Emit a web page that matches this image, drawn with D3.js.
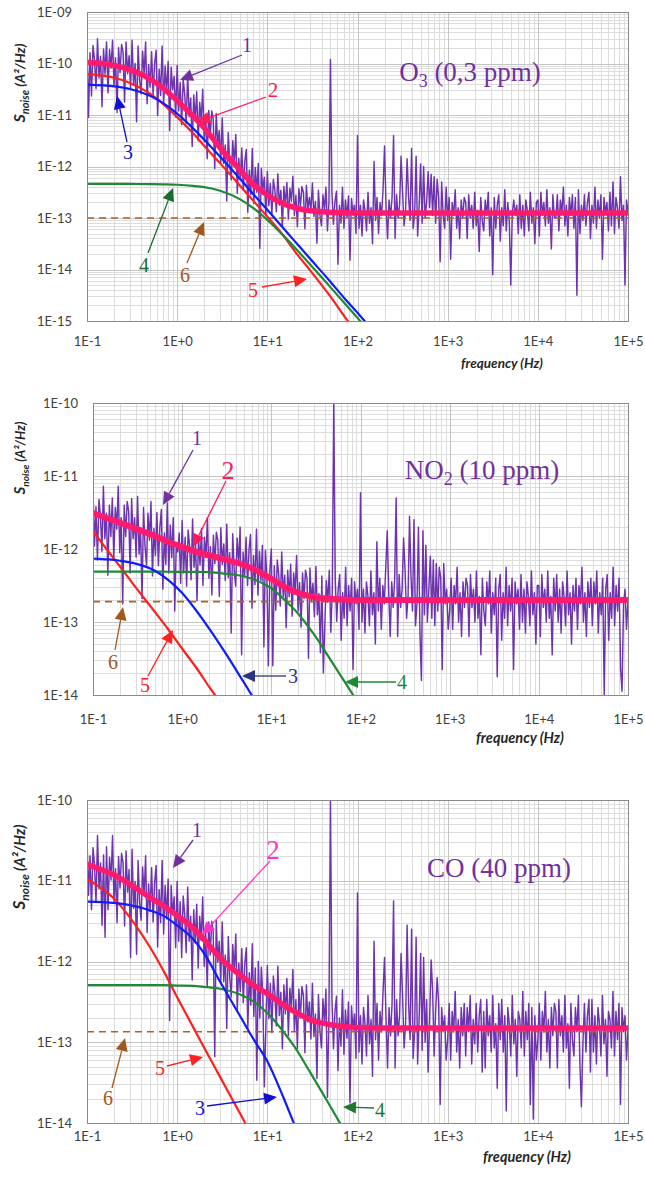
<!DOCTYPE html>
<html><head><meta charset="utf-8">
<script src="https://cdn.jsdelivr.net/npm/d3@7/dist/d3.min.js"></script>
<style>body{margin:0;background:#fff}svg{display:block}</style>
</head><body>
<svg id="chart" width="645" height="1178"></svg>
<script>
// ---------------- DATA ----------------
// frequency grid of the measured spectra: decade starts x 60 steps per decade
const decadeStarts = [0.1, 1, 10, 100, 1000, 10000];
const decadeSteps = [1.000,1.039,1.080,1.122,1.166,1.212,1.259,1.308,1.359,1.413,
  1.468,1.526,1.585,1.647,1.711,1.778,1.848,1.920,1.995,2.073,
  2.154,2.239,2.326,2.417,2.512,2.610,2.712,2.818,2.929,3.043,
  3.162,3.286,3.415,3.548,3.687,3.831,3.981,4.137,4.299,4.467,
  4.642,4.823,5.012,5.208,5.412,5.623,5.843,6.072,6.310,6.556,
  6.813,7.079,7.356,7.644,7.943,8.254,8.577,8.913,9.261,9.624];
const lastFreq = 100000;

const xTickLabels = ["1E-1","1E+0","1E+1","1E+2","1E+3","1E+4","1E+5"];
const yTickLabelsO3 = ["1E-09","1E-10","1E-11","1E-12","1E-13","1E-14","1E-15"];
const yTickLabels = ["1E-10","1E-11","1E-12","1E-13","1E-14"];

// measured spectra (curve 1), log10 of S (A^2/Hz)
const o3Noise = [
-9.6,-11.05,-9.79,-10.63,-9.65,-9.93,-10.49,-9.52,-10.28,-9.86,-10.84,-9.72,
-10.21,-9.58,-10.57,-9.73,-10.09,-9.55,-10.44,-9.89,-10.95,-9.69,-10.18,-9.63,
-9.77,-10.75,-9.58,-10.2,-9.85,-10.48,-9.55,-10.42,-10.0,-11.13,-9.66,-10.31,
-10.59,-9.76,-10.2,-9.58,-10.78,-10.02,-10.46,-9.77,-10.62,-10.0,-9.74,-11.01,
-10.11,-10.62,-9.66,-10.8,-10.05,-10.56,-9.96,-11.3,-10.07,-10.51,-10.25,-11.04,
-10.04,-10.92,-10.37,-11.19,-10.3,-10.6,-11.16,-10.21,-11.03,-10.67,-11.61,-10.61,
-11.1,-10.55,-11.5,-10.75,-11.12,-10.5,-11.52,-11.03,-11.85,-10.91,-11.41,-10.92,
-11.09,-12.04,-10.97,-11.59,-11.3,-11.93,-11.06,-11.94,-11.58,-12.67,-11.34,-11.96,
-12.26,-11.5,-11.94,-11.38,-12.52,-11.84,-12.26,-11.64,-12.46,-11.9,-11.67,-12.89,
-12.07,-12.55,-11.65,-12.72,-12.02,-12.5,-11.94,-13.59,-12.04,-12.46,-12.21,-12.95,
-12.1,-12.76,-12.33,-12.94,-12.25,-12.46,-12.88,-12.14,-12.75,-12.46,-13.18,-12.39,
-12.75,-12.31,-13.02,-12.42,-12.68,-12.19,-12.95,-12.56,-13.17,-12.43,-12.79,-12.39,
-12.5,-13.21,-12.37,-12.83,-12.6,-12.87,-12.32,-12.97,-12.68,-13.49,-12.46,-12.94,
-13.15,-12.55,-12.85,-12.4,-13.25,-12.7,-9.92,-12.52,-13.12,-12.68,-12.48,-13.9,
-12.75,-13.1,-12.4,-13.2,-12.65,-13.0,-12.57,-13.82,-12.62,-12.93,-12.75,-13.3,
-11.4,-13.2,-12.75,-13.35,-12.65,-12.85,-13.25,-12.5,-13.1,-12.8,-13.5,-11.9,
-13.05,-12.6,-13.3,-12.7,-12.95,-12.45,-11.6,-12.8,-13.4,-12.65,-13.0,-12.6,
-11.4,-13.4,-12.55,-13.0,-12.75,-11.8,-12.5,-13.15,-12.85,-11.85,-12.6,-13.05,
-11.65,-13.2,-12.95,-11.8,-13.35,-12.8,-11.95,-13.1,-12.0,-13.0,-12.7,-12.1,
-12.8,-12.15,-12.95,-12.2,-13.1,-12.25,-12.6,-13.85,-12.3,-12.95,-13.2,-12.4,
-13.05,-12.6,-13.8,-12.7,-12.95,-12.45,-13.2,-12.8,-13.4,-12.65,-13.0,-12.6,
-12.7,-13.4,-12.55,-13.0,-12.75,-13.2,-12.5,-13.15,-12.85,-13.65,-12.6,-13.05,
-13.25,-12.65,-12.95,-12.5,-13.35,-12.8,-14.1,-12.6,-13.2,-12.75,-12.55,-13.45,
-12.8,-13.15,-12.45,-13.25,-12.7,-13.05,-14.3,-12.9,-12.65,-12.95,-12.75,-13.3,
-12.55,-13.2,-12.75,-13.35,-12.65,-12.85,-13.25,-12.5,-13.1,-12.8,-13.5,-12.7,
-12.65,-13.35,-12.5,-12.95,-12.7,-13.15,-12.45,-13.1,-12.8,-13.6,-12.55,-13.0,
-13.0,-12.55,-13.25,-12.65,-12.9,-12.4,-13.15,-12.75,-13.35,-12.6,-12.95,-12.55,
-13.2,-12.6,-14.5,-12.45,-13.3,-12.75,-13.05,-12.55,-13.15,-12.7,-12.5,-13.4,
-12.75,-13.1,-12.4,-13.2,-12.65,-13.0,-12.55,-13.8,-12.6,-12.9,-12.7,-13.25,
-12.5,-13.15,-12.3,-13.3,-12.6,-12.8,-13.2,-12.2,-13.05,-12.75,-14.3,-12.65,
-12.9];
const no2Noise = [
-11.18,-11.96,-11.42,-12.15,-11.32,-11.55,-12.03,-11.14,-11.86,-11.51,-12.36,-11.4,
-11.83,-11.3,-12.14,-11.43,-11.73,-11.14,-12.05,-11.57,-12.75,-11.4,-11.83,-11.35,
-11.48,-12.33,-11.31,-11.86,-11.57,-12.11,-11.28,-12.07,-11.71,-12.68,-11.43,-11.97,
-12.22,-11.51,-11.88,-11.35,-12.37,-11.72,-12.09,-11.5,-12.23,-11.7,-11.46,-12.55,
-11.78,-12.21,-11.37,-12.33,-11.67,-12.12,-11.57,-12.85,-11.97,-12.04,-11.78,-12.47,
-11.61,-12.33,-11.84,-12.51,-11.74,-11.96,-12.42,-11.59,-12.25,-11.93,-12.71,-11.83,
-12.22,-11.72,-12.5,-11.84,-12.12,-11.57,-12.4,-11.97,-12.63,-11.81,-12.2,-11.77,
-11.88,-12.65,-11.71,-12.21,-11.93,-12.43,-11.66,-12.39,-12.05,-13.15,-11.79,-12.29,
-12.51,-11.85,-12.19,-11.7,-13.45,-12.04,-12.38,-11.84,-12.5,-12.0,-11.8,-12.81,
-12.09,-12.49,-11.73,-12.63,-12.03,-12.43,-11.95,-13.34,-12.02,-12.37,-13.6,-12.3,
-12.0,-13.6,-12.23,-12.84,-12.15,-12.36,-12.78,-12.04,-12.65,-12.36,-13.08,-12.29,
-12.65,-12.21,-12.92,-12.33,-12.58,-12.09,-12.85,-12.46,-13.07,-12.33,-12.68,-12.29,
-12.4,-13.5,-12.26,-12.72,-12.47,-12.93,-12.24,-12.9,-12.61,-13.42,-12.37,-13.7,
-13.03,-12.43,-12.73,-12.29,-13.14,-12.59,-10.0,-12.4,-12.99,-12.55,-12.35,-13.25,
-12.6,-12.95,-12.25,-13.05,-12.5,-12.85,-12.4,-13.65,-12.45,-12.75,-12.55,-13.1,
-11.23,-13.0,-12.55,-13.15,-12.45,-12.65,-13.05,-12.3,-12.9,-12.6,-13.3,-11.9,
-12.85,-12.4,-13.1,-12.5,-12.75,-12.25,-11.75,-12.6,-13.2,-12.45,-12.8,-12.4,
-11.3,-13.2,-12.35,-12.8,-12.55,-11.85,-12.3,-12.95,-12.65,-11.55,-12.4,-12.85,
-11.6,-13.05,-12.75,-11.7,-13.15,-13.8,-11.75,-12.9,-11.95,-13.0,-12.55,-12.1,
-12.95,-12.15,-13.05,-12.2,-12.85,-12.25,-12.4,-13.65,-12.2,-12.75,-12.55,-13.1,
-12.85,-12.4,-13.1,-12.5,-12.75,-12.25,-13.0,-12.6,-13.2,-12.45,-12.8,-12.4,
-12.5,-13.2,-12.35,-12.8,-12.55,-13.0,-12.3,-12.95,-12.65,-13.45,-12.4,-12.85,
-13.05,-12.45,-12.75,-12.3,-13.15,-12.6,-12.9,-12.4,-13.75,-12.55,-12.35,-13.25,
-12.6,-12.95,-12.25,-13.05,-12.5,-12.85,-12.4,-13.65,-12.45,-12.75,-12.55,-13.1,
-12.35,-13.0,-12.55,-13.15,-12.45,-12.65,-13.05,-12.3,-12.9,-12.6,-13.3,-12.5,
-12.5,-13.2,-12.35,-12.8,-12.55,-13.0,-12.3,-12.95,-12.65,-13.45,-12.4,-12.85,
-12.35,-13.0,-12.55,-13.15,-12.45,-12.65,-13.05,-12.3,-12.9,-12.6,-13.3,-12.5,
-12.85,-12.4,-13.1,-12.5,-12.75,-12.25,-13.0,-12.6,-13.2,-12.45,-12.8,-12.4,
-13.05,-12.45,-12.75,-12.3,-13.15,-12.6,-12.9,-12.4,-14.0,-12.55,-12.35,-13.25,
-12.6,-12.95,-12.25,-13.05,-12.5,-12.85,-12.4,-13.65,-13.95,-12.75,-12.55,-13.1,
-12.7];
const coNoise = [
-10.46,-11.18,-10.69,-11.36,-10.59,-10.81,-11.27,-10.44,-11.1,-10.78,-11.55,-10.68,
-11.7,-10.58,-11.36,-10.71,-10.99,-10.44,-11.28,-10.85,-11.52,-10.7,-11.09,-10.66,
-10.78,-11.56,-10.63,-11.14,-10.86,-11.95,-10.61,-11.34,-11.01,-11.91,-10.75,-11.26,
-11.49,-10.83,-11.18,-10.69,-11.64,-11.04,-11.38,-10.84,-11.51,-11.02,-10.81,-11.82,
-11.11,-11.52,-10.75,-11.66,-11.06,-11.47,-10.98,-12.73,-11.06,-11.42,-11.2,-11.83,
-11.01,-11.75,-11.26,-11.95,-11.19,-11.42,-11.89,-11.08,-11.75,-11.44,-12.23,-11.36,
-11.77,-11.29,-12.08,-11.44,-11.74,-11.2,-12.06,-11.64,-12.32,-11.51,-11.92,-11.5,
-11.63,-13.18,-11.49,-12.01,-11.75,-12.26,-11.51,-12.25,-11.92,-12.83,-11.69,-12.2,
-12.44,-11.79,-12.14,-11.66,-12.62,-12.02,-12.37,-11.84,-12.51,-12.03,-11.83,-12.84,
-12.14,-12.54,-11.78,-12.68,-12.08,-13.47,-12.0,-12.7,-12.07,-12.42,-13.55,-12.83,
-12.05,-12.71,-12.27,-12.88,-12.18,-12.39,-12.8,-12.06,-12.67,-12.38,-13.08,-12.29,
-12.65,-12.21,-12.92,-12.33,-12.59,-12.1,-12.86,-12.47,-13.08,-12.34,-12.7,-12.31,
-12.42,-13.13,-12.29,-12.75,-12.5,-12.96,-12.27,-12.93,-12.65,-13.45,-12.41,-12.86,
-13.07,-12.46,-12.76,-12.34,-13.68,-12.65,-10.0,-12.47,-13.08,-12.62,-12.43,-13.35,
-12.7,-13.05,-12.35,-13.15,-12.6,-12.95,-12.5,-13.75,-12.55,-12.85,-12.65,-13.2,
-11.15,-13.12,-12.67,-13.27,-12.57,-12.77,-13.17,-12.42,-13.02,-12.72,-13.42,-11.75,
-12.97,-12.52,-13.22,-12.62,-12.87,-12.37,-11.95,-12.72,-13.32,-12.57,-12.92,-12.52,
-11.25,-13.32,-12.47,-12.92,-12.67,-11.9,-12.42,-13.07,-12.77,-11.55,-12.52,-12.97,
-11.6,-13.2,-12.87,-11.7,-13.27,-12.72,-11.9,-13.1,-11.95,-13.0,-12.47,-13.37,
-12.72,-11.98,-12.37,-13.17,-12.62,-12.2,-12.52,-13.77,-12.57,-12.87,-12.67,-13.22,
-12.97,-12.52,-13.22,-12.62,-12.87,-12.37,-13.12,-12.72,-13.32,-12.57,-12.92,-12.52,
-13.17,-12.57,-12.87,-12.42,-13.27,-12.72,-13.02,-12.52,-13.12,-12.67,-12.47,-13.37,
-12.62,-13.32,-12.47,-12.92,-12.67,-13.12,-12.42,-13.07,-12.77,-13.57,-12.52,-12.97,
-12.47,-13.12,-12.67,-13.85,-12.57,-12.77,-13.17,-12.42,-13.02,-12.72,-13.42,-12.62,
-12.72,-13.07,-12.37,-13.17,-12.62,-12.97,-12.52,-13.77,-12.57,-13.95,-12.67,-13.22,
-12.97,-12.52,-13.22,-12.62,-12.87,-12.37,-13.12,-12.72,-13.32,-12.57,-12.92,-12.52,
-12.62,-13.32,-12.47,-12.92,-12.67,-13.12,-12.42,-13.07,-12.77,-13.57,-12.52,-12.97,
-13.17,-12.57,-12.87,-12.42,-13.27,-13.8,-13.02,-12.52,-13.12,-12.67,-12.47,-13.37,
-12.47,-13.12,-12.67,-13.27,-12.57,-12.77,-13.17,-12.42,-13.02,-12.72,-13.42,-12.62,
-12.72,-13.07,-12.37,-13.17,-12.62,-12.97,-12.52,-13.77,-12.57,-12.87,-12.67,-13.22,
-12.85];

// fitted model curves, sampled at these frequencies (Hz)
const curveFreqs = [0.1,0.15,0.2,0.3,0.5,0.7,1,1.5,2,3,5,7,10,15,20,30,50,70,100,200,1000,10000,100000];
// O3: 2 = total fit, 3/4/5 = components, 6 = white level
const o3Total = [1.05e-10,1.0e-10,9.2e-11,7.5e-11,5.0e-11,3.3e-11,1.9e-11,9.5e-12,5.6e-12,2.3e-12,8.5e-13,4.5e-13,2.8e-13,1.9e-13,1.6e-13,1.38e-13,1.3e-13,1.27e-13,1.25e-13,1.25e-13,1.25e-13,1.25e-13,1.25e-13];
const o3Comp3 = [3.9e-11,3.76e-11,3.6e-11,3.2e-11,2.36e-11,1.7e-11,1.06e-11,5.5e-12,3.3e-12,1.54e-12,5.7e-13,2.9e-13,1.44e-13,6.4e-14,3.6e-14,1.6e-14,5.8e-15,2.9e-15,1.44e-15,3.6e-16,null,null,null];
const o3Comp4 = [4.6e-13,4.6e-13,4.6e-13,4.58e-13,4.55e-13,4.5e-13,4.42e-13,4.2e-13,3.97e-13,3.38e-13,2.3e-13,1.56e-13,9.2e-14,4.6e-14,2.7e-14,1.24e-14,4.55e-15,2.34e-15,1.15e-15,2.9e-16,null,null,null];
const o3Comp5 = [6.3e-11,5.8e-11,5.3e-11,4.2e-11,2.6e-11,1.63e-11,9.1e-12,4.4e-12,2.5e-12,1.15e-12,4.2e-13,2.15e-13,1.06e-13,4.6e-14,2.3e-14,9.5e-15,3.0e-15,1.3e-15,5.5e-16,null,null,null,null];
const o3White = 1e-13;
// NO2
const no2Total = [3.1e-12,2.6e-12,2.3e-12,1.9e-12,1.5e-12,1.25e-12,1.07e-12,9.0e-13,8.2e-13,7.2e-13,6.0e-13,5.0e-13,3.9e-13,2.9e-13,2.5e-13,2.2e-13,2.07e-13,2.03e-13,2.0e-13,2.0e-13,2.0e-13,2.0e-13,2.0e-13];
const no2Comp3 = [7.4e-13,7.2e-13,6.9e-13,6.3e-13,5.0e-13,3.75e-13,2.5e-13,1.34e-13,8.2e-14,3.9e-14,1.44e-14,7.4e-15,3.7e-15,null,null,null,null,null,null,null,null,null,null];
const no2Comp4 = [4.9e-13,4.9e-13,4.9e-13,4.9e-13,4.9e-13,4.88e-13,4.87e-13,4.86e-13,4.83e-13,4.6e-13,4.2e-13,3.65e-13,2.9e-13,1.86e-13,1.3e-13,6.8e-14,2.6e-14,1.38e-14,6.9e-15,null,null,null,null];
const no2Comp5 = [1.75e-12,9.1e-13,5.8e-13,3.0e-13,1.35e-13,7.9e-14,4.3e-14,2.2e-14,1.3e-14,6.6e-15,2.8e-15,null,null,null,null,null,null,null,null,null,null,null,null];
const no2White = 1.9e-13;
// CO
const coTotal = [1.6e-11,1.35e-11,1.18e-11,9.0e-12,6.2e-12,4.9e-12,3.7e-12,2.6e-12,1.85e-12,1.1e-12,6.8e-13,5.1e-13,4.0e-13,2.9e-13,2.4e-13,1.9e-13,1.65e-13,1.57e-13,1.52e-13,1.5e-13,1.5e-13,1.5e-13,1.5e-13];
const coComp3 = [5.5e-12,5.45e-12,5.3e-12,5.0e-12,4.3e-12,3.7e-12,2.8e-12,1.9e-12,1.25e-12,5.6e-13,2.1e-13,1.1e-13,5.8e-14,2.1e-14,9.5e-15,3.1e-15,null,null,null,null,null,null,null];
const coComp4 = [5.1e-13,5.1e-13,5.1e-13,5.1e-13,5.1e-13,5.1e-13,5.04e-13,5.0e-13,4.86e-13,4.6e-13,3.9e-13,3.2e-13,2.3e-13,1.36e-13,8.8e-14,4.2e-14,1.6e-14,8.4e-15,4.2e-15,null,null,null,null];
const coComp5 = [1.05e-11,7.8e-12,6.0e-12,3.5e-12,1.5e-12,7.8e-13,3.6e-13,1.55e-13,8.5e-14,3.7e-14,1.3e-14,6.5e-15,3.2e-15,null,null,null,null,null,null,null,null,null,null];
const coWhite = 1.35e-13;

const o3Title = ["O","3"," (0,3 ppm)"];
const no2Title = ["NO","2"," (10 ppm)"];
const coTitle = ["CO (40 ppm)"];

// ---------------- LAYOUT / STYLE ----------------
const C = {
  purple:"#6e33ae", pink:"#ff1a6e", red:"#ff1f1f", blue:"#0f1cff", green:"#1f8a34",
  brown:"#b0631e", grid:"#c4c4c4", gridMinor:"#dddddd", frame:"#8a8a8a", tick:"#404040"
};
const panels = [
  {noise:o3Noise, total:o3Total, c3:o3Comp3, c4:o3Comp4, c5:o3Comp5, white:o3White,
   yLabels:yTickLabelsO3, title:o3Title,
   box:{l:87,r:628,t:12,b:321}, xPad:16, titleXY:[470,81], freqXY:[502,368], freqSize:13.5,
   yTitle:[20,83], yTitleSize:14, pinkW:5.5},
  {noise:no2Noise, total:no2Total, c3:no2Comp3, c4:no2Comp4, c5:no2Comp5, white:no2White,
   yLabels:yTickLabels, title:no2Title,
   box:{l:93,r:628,t:403,b:695}, xPad:20, titleXY:[482,479], freqXY:[520,743], freqSize:14.5,
   yTitle:[20,458], yTitleSize:13, pinkW:6},
  {noise:coNoise, total:coTotal, c3:coComp3, c4:coComp4, c5:coComp5, white:coWhite,
   yLabels:yTickLabels, title:coTitle,
   box:{l:87,r:628,t:800,b:1123}, xPad:9, titleXY:[499,877], freqXY:[527,1162], freqSize:14.5,
   yTitle:[20,867], yTitleSize:15, pinkW:5.5}
];
// annotation labels: panel, text, text center, font size, colour, arrow tail->tip (px)
const annotations = [
  [0,"1",247,45,20,"#7030a0",[242,55,180,80]],
  [0,"2",273,90,21,"#ff1a5a",[266,97,197,122]],
  [0,"3",128,152,20,"#1010d0",[127,142,117,96]],
  [0,"4",144,265,20,"#1a6b2e",[148,253,173,188]],
  [0,"6",185,275,20,"#a0581c",[187,263,204,222]],
  [0,"5",253,290,20,"#ff2020",[262,287,307,279]],
  [1,"1",197,438,20,"#7030a0",[193,450,163,505]],
  [1,"2",228,470,26,"#ff1a5a",[226,481,193,547]],
  [1,"3",293,676,20,"#2a3580",[286,676,242,676]],
  [1,"4",402,682,20,"#1f8a34",[396,682,345,682]],
  [1,"5",145,685,20,"#ff2020",[148,676,173,630]],
  [1,"6",113,662,20,"#a0581c",[115,650,123,607]],
  [2,"1",197,830,20,"#7030a0",[193,840,173,868]],
  [2,"2",273,850,27,"#ff33cc",[270,861,202,935]],
  [2,"3",200,1108,20,"#1010d0",[207,1106,277,1097]],
  [2,"4",380,1110,20,"#1f7a30",[374,1108,343,1107]],
  [2,"5",160,1068,20,"#ff2020",[167,1066,203,1057]],
  [2,"6",108,1098,20,"#a0581c",[112,1088,125,1038]]
];

// ---------------- DRAW ----------------
const svg = d3.select("#chart");
const noiseFreqs = decadeStarts.flatMap(d => decadeSteps.map(m => d*m)).concat([lastFreq]);
const tickFont = "Lato, 'Open Sans', sans-serif";

panels.forEach((p, pi) => {
  const b = p.box;
  const yVals = p.yLabels.map(Number);
  const x = d3.scaleLog().domain([Number(xTickLabels[0]), Number(xTickLabels[xTickLabels.length-1])]).range([b.l, b.r]);
  const y = d3.scaleLog().domain([d3.min(yVals), d3.max(yVals)]).range([b.b, b.t]);
  const g = svg.append("g");

  // grid
  const xMinor = [], yMinor = [];
  decadeStarts.forEach(d => { for (let m = 2; m <= 9; m++) xMinor.push(d*m); });
  yVals.forEach(v => { if (v < d3.max(yVals)) for (let m = 2; m <= 9; m++) yMinor.push(v*m); });
  const grid = g.append("g").attr("shape-rendering","crispEdges");
  const hl = (sel, data, col) => sel.selectAll(null).data(data).join("line").attr("x1",b.l).attr("x2",b.r)
    .attr("y1",d=>Math.round(y(d))+0.5).attr("y2",d=>Math.round(y(d))+0.5).attr("stroke",col);
  const vl = (sel, data, col) => sel.selectAll(null).data(data).join("line").attr("y1",b.t).attr("y2",b.b)
    .attr("x1",d=>Math.round(x(d))+0.5).attr("x2",d=>Math.round(x(d))+0.5).attr("stroke",col);
  hl(grid, yMinor, C.gridMinor); vl(grid, xMinor, C.gridMinor);
  hl(grid, yVals, C.grid); vl(grid, xTickLabels.map(Number), C.grid);

  // clip
  const cid = "clip"+pi;
  svg.append("clipPath").attr("id",cid).append("rect")
    .attr("x",b.l).attr("y",b.t).attr("width",b.r-b.l).attr("height",b.b-b.t);
  const plot = g.append("g").attr("clip-path",`url(#${cid})`);

  // curve 1: measured noise
  const noisePts = p.noise.map((v,i) => [noiseFreqs[i], Math.pow(10, v)]).filter(d => d[0] != null);
  plot.append("path").datum(noisePts)
    .attr("d", d3.line().x(d=>x(d[0])).y(d=>y(d[1])))
    .attr("fill","none").attr("stroke",C.purple).attr("stroke-width",1.45).attr("stroke-linejoin","round");

  const lg = d3.line().defined(d => d[1] != null).x(d=>x(d[0])).y(d=>y(d[1])).curve(d3.curveMonotoneX);
  const pts = arr => arr.map((v,i) => [curveFreqs[i], v]);

  // 6: white noise level
  plot.append("path").datum([[curveFreqs[0], p.white],[curveFreqs[curveFreqs.length-1], p.white]])
    .attr("d", lg).attr("fill","none").attr("stroke",C.brown).attr("stroke-width",1.7).attr("stroke-dasharray","7,5");
  // 5, 4, 3 components
  plot.append("path").datum(pts(p.c5)).attr("d",lg).attr("fill","none").attr("stroke",C.red).attr("stroke-width",2.2);
  plot.append("path").datum(pts(p.c4)).attr("d",lg).attr("fill","none").attr("stroke",C.green).attr("stroke-width",2.2);
  plot.append("path").datum(pts(p.c3)).attr("d",lg).attr("fill","none").attr("stroke",C.blue).attr("stroke-width",2.2);
  // 2 total fit
  plot.append("path").datum(pts(p.total)).attr("d",lg).attr("fill","none").attr("stroke",C.pink)
    .attr("stroke-width",p.pinkW).attr("stroke-linecap","round");

  // frame
  g.append("rect").attr("x",b.l+0.5).attr("y",b.t+0.5).attr("width",b.r-b.l).attr("height",b.b-b.t)
    .attr("fill","none").attr("stroke",C.frame).attr("shape-rendering","crispEdges");

  // axes
  const ax = g.append("g").attr("transform",`translate(0,${b.b})`)
    .call(d3.axisBottom(x).tickValues(xTickLabels.map(Number)).tickFormat((d,i)=>xTickLabels[i]).tickSize(0).tickPadding(p.xPad));
  const ay = g.append("g").attr("transform",`translate(${b.l},0)`)
    .call(d3.axisLeft(y).tickValues(yVals).tickFormat((d,i)=>p.yLabels[i]).tickSize(0).tickPadding(15));
  [ax, ay].forEach(a => {
    a.select(".domain").remove();
    a.selectAll("text").attr("fill",C.tick).style("font-family",tickFont).style("font-size","13px");
  });

  // axis titles
  g.append("text").attr("x",p.freqXY[0]).attr("y",p.freqXY[1]).attr("text-anchor","middle")
    .style("font-family",tickFont).style("font-weight","bold").style("font-style","italic")
    .style("font-size",p.freqSize+"px").attr("fill","#262626").text("frequency (Hz)");
  const yt = g.append("text").attr("transform",`translate(${p.yTitle[0]},${p.yTitle[1]}) rotate(-90)`)
    .attr("text-anchor","middle").attr("dy","0.35em")
    .style("font-family",tickFont).style("font-weight","bold").style("font-style","italic")
    .style("font-size",p.yTitleSize+"px").attr("fill","#262626");
  yt.append("tspan").style("font-size",(p.yTitleSize+2)+"px").text("S");
  yt.append("tspan").attr("dy",4).style("font-size",(p.yTitleSize-3)+"px").text("noise");
  yt.append("tspan").attr("dy",-4).text(" (A\u00B2/Hz)");

  // panel title
  const tt = g.append("text").attr("x",p.titleXY[0]).attr("y",p.titleXY[1]).attr("text-anchor","middle")
    .style("font-family","'Liberation Serif','Times New Roman',serif").style("font-size","27px").attr("fill","#7030a0");
  p.title.forEach((s, i) => {
    const ts = tt.append("tspan").text(s);
    if (i === 1) ts.attr("dy",6).style("font-size","18px");
    if (i === 2) ts.attr("dy",-6);
  });
});

// annotations
annotations.forEach(([pi, txt, tx, ty, size, color, ar]) => {
  const g = svg.append("g");
  const [x1,y1,x2,y2] = ar;
  const ang = Math.atan2(y2-y1, x2-x1);
  const L = 13, W = 6;
  const bx = x2 - L*Math.cos(ang), by = y2 - L*Math.sin(ang);
  g.append("line").attr("x1",x1).attr("y1",y1).attr("x2",bx).attr("y2",by)
    .attr("stroke",color).attr("stroke-width",1.3);
  g.append("path").attr("d",`M${x2},${y2}L${bx+W*Math.sin(ang)},${by-W*Math.cos(ang)}L${bx-W*Math.sin(ang)},${by+W*Math.cos(ang)}Z`)
    .attr("fill",color);
  g.append("text").attr("x",tx).attr("y",ty).attr("dy","0.35em").attr("text-anchor","middle")
    .style("font-family","'Liberation Serif','Times New Roman',serif").style("font-size",size+"px")
    .attr("fill",color).text(txt);
});
</script>
</body></html>
